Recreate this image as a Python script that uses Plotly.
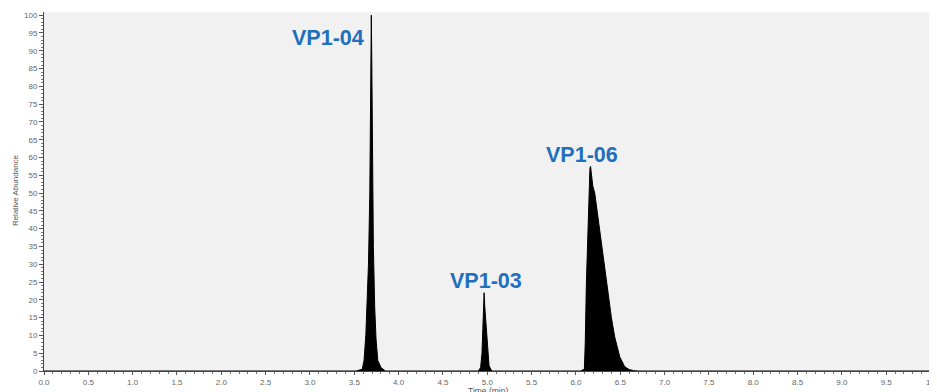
import plotly.graph_objects as go

# Chromatogram: time (min) vs relative abundance (%)
peak_04_time = [3.52, 3.59, 3.61, 3.63, 3.645, 3.66, 3.675, 3.685, 3.692, 3.697, 3.705, 3.715, 3.73, 3.745, 3.765, 3.80, 3.85]
peak_04_abund = [0, 0.5, 3, 10, 18, 30, 50, 80, 100, 88, 60, 35, 18, 9, 3, 1, 0]

peak_03_time = [4.90, 4.925, 4.94, 4.95, 4.958, 4.964, 4.972, 4.985, 5.00, 5.02, 5.05]
peak_03_abund = [0, 1, 5, 12, 19, 22, 18, 14, 9, 1.5, 0]

peak_06_time = [6.05, 6.095, 6.105, 6.118, 6.137, 6.150, 6.158, 6.165, 6.175, 6.19, 6.212, 6.25, 6.287, 6.344, 6.40, 6.437, 6.494, 6.55, 6.60, 6.65, 6.70]
peak_06_abund = [0, 0.5, 8, 25, 43, 53, 57, 57.5, 55, 52, 50, 43, 36, 25, 15, 9.6, 4, 1.2, 0.4, 0.1, 0]

run_start, run_end = 0.0, 10.0

peak_names = ["VP1-04", "VP1-03", "VP1-06"]
peak_label_time = [3.20, 4.983, 6.066]
peak_label_abund = [93.5, 25.3, 60.7]

x_tick_vals = [i * 0.5 for i in range(21)]
x_tick_text = ["%.1f" % v for v in x_tick_vals[:-1]] + ["10"]
y_tick_vals = list(range(0, 101, 5))

time = [run_start] + peak_04_time + peak_03_time + peak_06_time + [run_end]
abund = [0] + peak_04_abund + peak_03_abund + peak_06_abund + [0]

fig = go.Figure()
fig.add_trace(go.Scatter(
    x=time, y=abund, mode="lines", fill="tozeroy",
    line=dict(color="black", width=1), fillcolor="black",
    hoverinfo="skip", showlegend=False,
))

for name, tx, ty in zip(peak_names, peak_label_time, peak_label_abund):
    fig.add_annotation(x=tx, y=ty, text="<b>%s</b>" % name, showarrow=False,
                       font=dict(family="Liberation Sans, Arial", size=21.5, color="#1f6fbe"),
                       xanchor="center", yanchor="middle")

fig.add_annotation(xref="paper", yref="paper", x=-0.0325, y=0.504,
                   text="Relative Abundance", textangle=-90, showarrow=False,
                   font=dict(family="Liberation Sans, Arial", size=8, color="#555"),
                   xanchor="center", yanchor="middle")
fig.add_annotation(xref="paper", yref="paper", x=0.498, y=-0.056,
                   text="Time (min)", showarrow=False,
                   font=dict(family="Liberation Sans, Arial", size=8.5, color="#555"),
                   xanchor="center", yanchor="middle")

axis_font = dict(family="Liberation Sans, Arial", size=8, color="#666")
# the page body has an 8px margin, so the figure is shrunk and its margins shifted to compensate
fig.update_layout(
    width=929, height=384,
    margin=dict(l=36, r=2, t=4, b=21),
    paper_bgcolor="white", plot_bgcolor="#f1f1f1",
    xaxis=dict(range=[0, 10.05], tickvals=x_tick_vals, ticktext=x_tick_text,
               ticks="outside", ticklen=3, tickcolor="#555", tickwidth=1,
               minor=dict(dtick=0.1, ticks="outside", ticklen=2, tickcolor="#777", showgrid=False),
               showline=True, linecolor="#444", linewidth=1, showgrid=False, zeroline=False,
               tickfont=axis_font, fixedrange=True),
    yaxis=dict(range=[0, 100.9], tickvals=y_tick_vals,
               ticks="outside", ticklen=4, tickcolor="#555", tickwidth=1,
               minor=dict(dtick=1, ticks="outside", ticklen=2, tickcolor="#777", showgrid=False),
               showline=True, linecolor="#444", linewidth=1, showgrid=False, zeroline=False,
               tickfont=axis_font, fixedrange=True),
)

fig.write_html("out.html")
